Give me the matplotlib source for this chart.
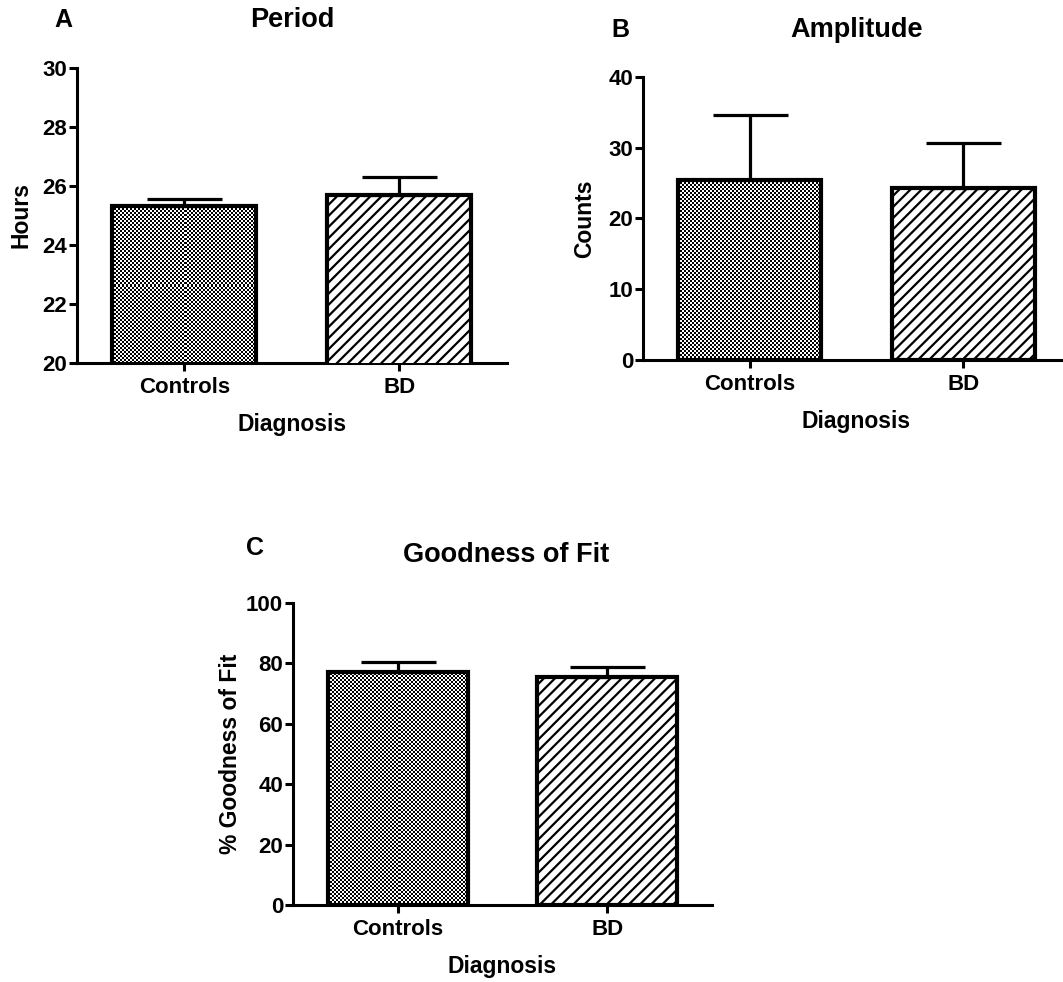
import numpy as np
import matplotlib
matplotlib.use('Agg')
import matplotlib.pyplot as plt

plt.rcParams['font.family'] = ['Liberation Sans', 'DejaVu Sans']
plt.rcParams['font.weight'] = 'bold'
plt.rcParams['hatch.linewidth'] = 1.6

groups = ['Controls', 'BD']

period_mean = [25.32, 25.69]
period_err = [0.24, 0.60]

amp_mean = [25.4, 24.3]
amp_err = [9.2, 6.4]

fit_mean = [77.2, 75.5]
fit_err = [3.3, 3.3]

fig = plt.figure(figsize=(10.63, 9.82), dpi=100)


def checker_fill(ax, bar, cell=2.0):
    # fine black/white checkerboard clipped to the visible part of the bar
    fig.canvas.draw()
    ymin = ax.get_ylim()[0]
    x0, y0 = bar.get_x(), max(bar.get_y(), ymin)
    x1, y1 = bar.get_x() + bar.get_width(), bar.get_y() + bar.get_height()
    p0 = ax.transData.transform((x0, y0))
    p1 = ax.transData.transform((x1, y1))
    nx = max(int(round(abs(p1[0] - p0[0]) / cell)), 1)
    ny = max(int(round(abs(p1[1] - p0[1]) / cell)), 1)
    ii, jj = np.indices((ny, nx))
    img = (ii + jj) % 2
    im = ax.imshow(img, cmap='gray', extent=(x0, x1, y0, y1), aspect='auto',
                   interpolation='none', zorder=2, vmin=0, vmax=1)
    im.set_clip_path(bar)
    ax.set_ylim(ymin, ax.get_ylim()[1])


def panel(rect, means, errs, ylim, yticks, ylabel, title, letter,
          title_xy, letter_xy, ylabelpad):
    ax = fig.add_axes(rect)
    x = np.arange(len(groups))
    bars = ax.bar(x, means, width=0.67, facecolor='none', edgecolor='black',
                  linewidth=3, zorder=3)
    bars[1].set_facecolor('white')
    bars[1].set_hatch('///')
    ax.errorbar(x, means, yerr=[np.zeros(len(errs)), errs], fmt='none',
                ecolor='black', elinewidth=2.3, capsize=27, capthick=2.3,
                zorder=4)
    ax.set_xlim(-0.5, 1.5)
    ax.set_ylim(*ylim)
    ax.set_yticks(yticks)
    ax.set_xticks(x)
    ax.set_xticklabels(groups)
    for s in ['top', 'right']:
        ax.spines[s].set_visible(False)
    for s in ['left', 'bottom']:
        ax.spines[s].set_linewidth(2.2)
    ax.tick_params(axis='both', width=2.2, length=6, labelsize=16)
    ax.tick_params(axis='y', pad=1)
    ax.tick_params(axis='x', pad=4)
    ax.set_ylabel(ylabel, fontsize=16.5, fontweight='bold', labelpad=ylabelpad)
    ax.set_xlabel('Diagnosis', fontsize=16.5, fontweight='bold', labelpad=11)
    fig.text(title_xy[0] / 1063, 1 - title_xy[1] / 982, title, fontsize=19.5,
             fontweight='bold', ha='center', va='center')
    fig.text(letter_xy[0] / 1063, 1 - letter_xy[1] / 982, letter, fontsize=18,
             fontweight='bold', ha='center', va='center')
    checker_fill(ax, bars[0])
    return ax


panel([0.0724, 0.6303, 0.4045, 0.3005], period_mean, period_err, (20, 30),
      [20, 22, 24, 26, 28, 30], 'Hours', 'Period', 'A',
      (292, 20), (63, 20), 7)
panel([0.6049, 0.6334, 0.4017, 0.2882], amp_mean, amp_err, (0, 40),
      [0, 10, 20, 30, 40], 'Counts', 'Amplitude', 'B',
      (857, 30), (620, 30), 9)
panel([0.2756, 0.0784, 0.3942, 0.3075], fit_mean, fit_err, (0, 100),
      [0, 20, 40, 60, 80, 100], '% Goodness of Fit', 'Goodness of Fit', 'C',
      (506, 555), (255, 548), 3)

fig.savefig('out.png', dpi=100)
